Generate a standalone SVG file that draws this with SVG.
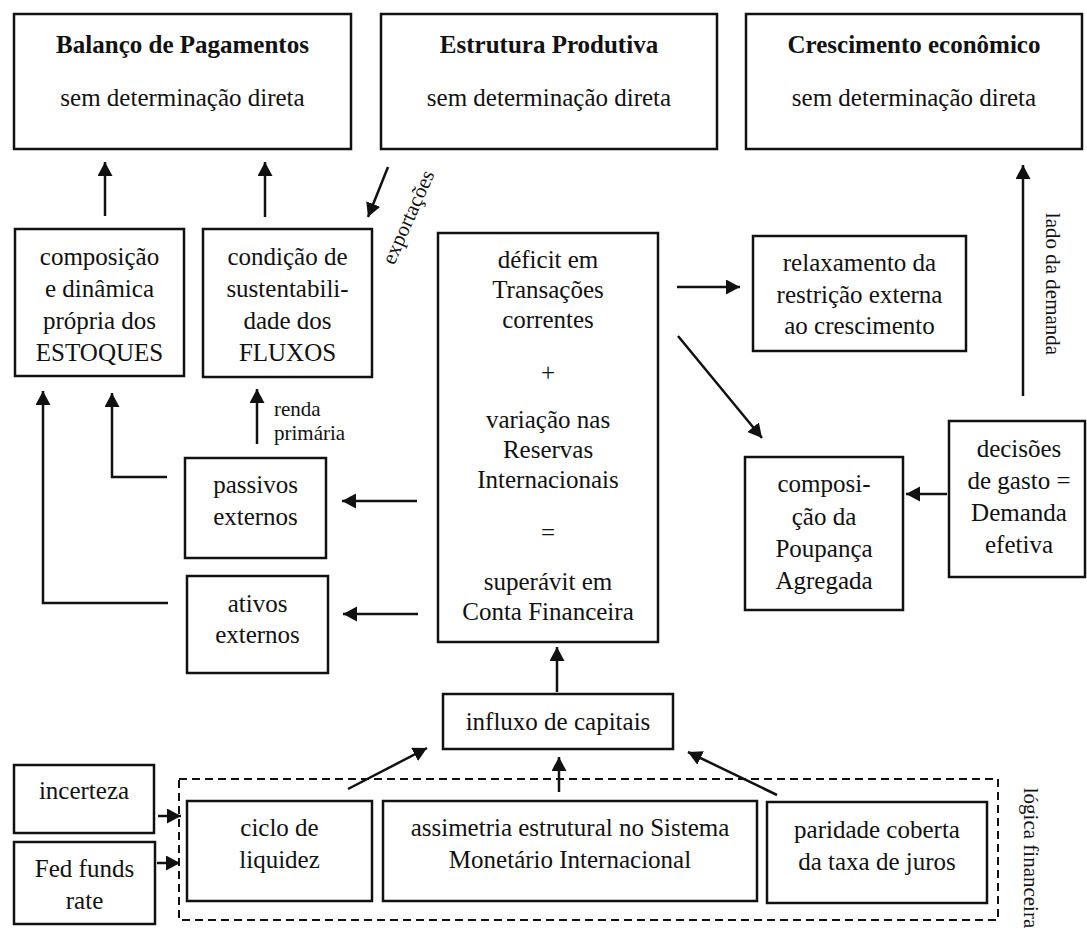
<svg xmlns="http://www.w3.org/2000/svg" width="1087" height="935" viewBox="0 0 1087 935">
<style>
.box{fill:#fff;stroke:#111;stroke-width:2.5}
.dash{fill:none;stroke:#111;stroke-width:2;stroke-dasharray:8 5}
text{font-family:"Liberation Serif","Times New Roman",serif;font-size:25px;fill:#111;text-anchor:middle}
.b{font-weight:bold}
.s{font-size:21px}
.l{text-anchor:start}
.c line,.c polyline{stroke:#111;stroke-width:2.5;fill:none;marker-end:url(#ah)}
</style>
<defs>
<marker id="ah" markerUnits="userSpaceOnUse" markerWidth="16" markerHeight="16" refX="14" refY="7.5" orient="auto">
<path d="M0,0 L14,7.5 L0,15 z" fill="#111"/>
</marker>
</defs>
<rect width="1087" height="935" fill="#fff"/>

<g id="balanco"><rect class="box" x="14" y="14" width="337" height="135"/>
<text class="b" x="182.5" y="53">Balanço de Pagamentos</text>
<text x="182.5" y="106">sem determinação direta</text></g>

<g id="estrutura"><rect class="box" x="381" y="14" width="336" height="135"/>
<text class="b" x="549" y="53">Estrutura Produtiva</text>
<text x="549" y="106">sem determinação direta</text></g>

<g id="crescimento"><rect class="box" x="746" y="14" width="336" height="135"/>
<text class="b" x="914" y="53">Crescimento econômico</text>
<text x="914" y="106">sem determinação direta</text></g>

<g id="estoques"><rect class="box" x="15" y="229" width="169" height="147"/>
<text x="99.5" y="265">composição</text>
<text x="99.5" y="297">e dinâmica</text>
<text x="99.5" y="329">própria dos</text>
<text x="99.5" y="361">ESTOQUES</text></g>

<g id="fluxos"><rect class="box" x="203" y="229" width="169" height="148"/>
<text x="287.5" y="265">condição de</text>
<text x="287.5" y="297">sustentabili-</text>
<text x="287.5" y="329">dade dos</text>
<text x="287.5" y="361">FLUXOS</text></g>

<g id="identidade"><rect class="box" x="438" y="233" width="220" height="409"/>
<text x="548" y="268">déficit em</text>
<text x="548" y="298">Transações</text>
<text x="548" y="328">correntes</text>
<text x="548" y="381">+</text>
<text x="548" y="428">variação nas</text>
<text x="548" y="458">Reservas</text>
<text x="548" y="488">Internacionais</text>
<text x="548" y="541">=</text>
<text x="548" y="590">superávit em</text>
<text x="548" y="620">Conta Financeira</text></g>

<g id="relaxamento"><rect class="box" x="753" y="236" width="213" height="115"/>
<text x="859.5" y="271">relaxamento da</text>
<text x="859.5" y="303">restrição externa</text>
<text x="859.5" y="334">ao crescimento</text></g>

<g id="poupanca"><rect class="box" x="745" y="457" width="158" height="153"/>
<text x="824" y="492">composi-</text>
<text x="824" y="525">ção da</text>
<text x="824" y="557">Poupança</text>
<text x="824" y="589">Agregada</text></g>

<g id="decisoes"><rect class="box" x="949" y="421" width="136" height="156"/>
<text x="1019" y="457">decisões</text>
<text x="1019" y="489">de gasto =</text>
<text x="1019" y="521">Demanda</text>
<text x="1019" y="553">efetiva</text></g>

<g id="passivos"><rect class="box" x="185" y="458" width="141" height="100"/>
<text x="255.5" y="493">passivos</text>
<text x="255.5" y="525">externos</text></g>

<g id="ativos"><rect class="box" x="187" y="576" width="141" height="97"/>
<text x="257.5" y="612">ativos</text>
<text x="257.5" y="643">externos</text></g>

<g id="influxo"><rect class="box" x="443" y="694" width="230" height="55"/>
<text x="558" y="730">influxo de capitais</text></g>

<g id="logica-financeira"><rect class="dash" x="179" y="779" width="819" height="141"/>
<text class="s" transform="translate(1031,858) rotate(90)" y="7">lógica financeira</text></g>

<g id="incerteza"><rect class="box" x="14" y="765" width="140" height="68"/>
<text x="84" y="799">incerteza</text></g>

<g id="fed"><rect class="box" x="14" y="842" width="141" height="82"/>
<text x="84.5" y="877">Fed funds</text>
<text x="84.5" y="909">rate</text></g>

<g id="ciclo"><rect class="box" x="187" y="801" width="185" height="100"/>
<text x="279.5" y="836">ciclo de</text>
<text x="279.5" y="868">liquidez</text></g>

<g id="assimetria"><rect class="box" x="383" y="801" width="374" height="100"/>
<text x="570" y="836">assimetria estrutural no Sistema</text>
<text x="570" y="868">Monetário Internacional</text></g>

<g id="paridade"><rect class="box" x="767" y="802" width="220" height="101"/>
<text x="877" y="838">paridade coberta</text>
<text x="877" y="870">da taxa de juros</text></g>

<g id="connectors" class="c">
<line x1="105" y1="216" x2="105" y2="162"/>
<line x1="265" y1="217" x2="265" y2="162"/>
<line x1="388" y1="167" x2="368" y2="217"/>
<line x1="677" y1="287" x2="740" y2="287"/>
<line x1="678" y1="336" x2="762" y2="438"/>
<line x1="947" y1="494" x2="906" y2="494"/>
<line x1="1023" y1="396" x2="1023" y2="165"/>
<line x1="417" y1="501" x2="342" y2="501"/>
<line x1="418" y1="614" x2="343" y2="614"/>
<polyline points="167,477 112,477 112,393"/>
<polyline points="168,603 43,603 43,391"/>
<line x1="257" y1="444" x2="257" y2="389"/>
<line x1="557" y1="692" x2="557" y2="647"/>
<line x1="348" y1="789" x2="427" y2="748"/>
<line x1="559" y1="792" x2="559" y2="757"/>
<line x1="777" y1="795" x2="688" y2="752"/>
<line x1="158" y1="816" x2="181" y2="816"/>
<line x1="157" y1="863" x2="180" y2="863"/>
</g>
<g id="connector-labels">
<text class="s" transform="translate(408,217) rotate(-66)" y="7">exportações</text>
<text class="s" transform="translate(1053,284) rotate(90)" y="7">lado da demanda</text>
<text class="s l" x="274" y="416">renda</text>
<text class="s l" x="274" y="440">primária</text>
</g>
</svg>
